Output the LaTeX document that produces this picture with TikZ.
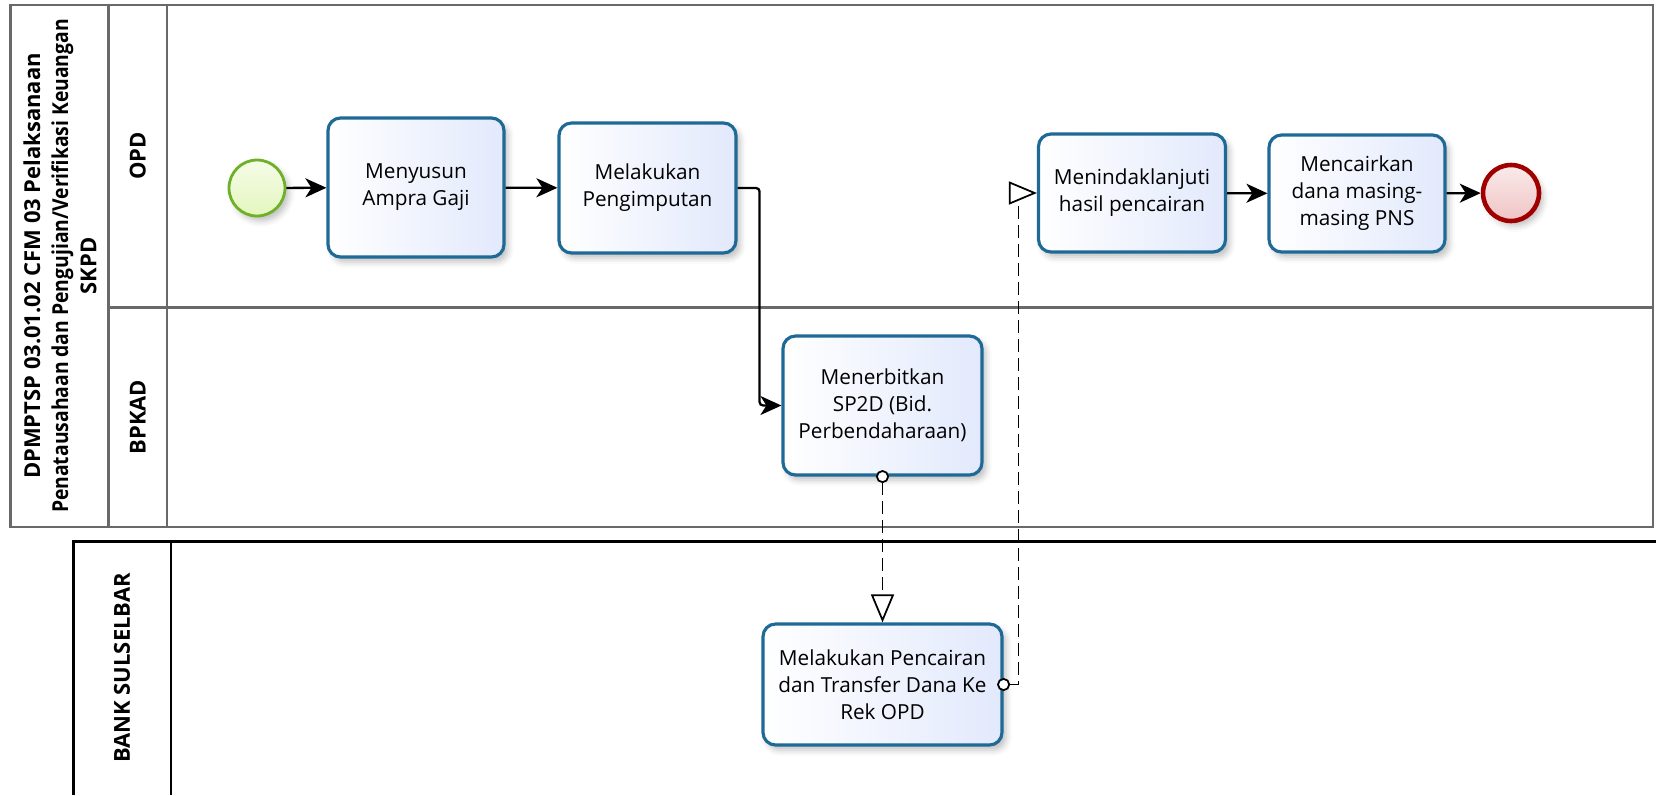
\documentclass[tikz,border=0pt]{standalone}
\usepackage{fontspec}
\setmainfont{Open Sans}
\usepackage{graphicx}
\usepackage{tikz}
\usetikzlibrary{arrows.meta}
\usetikzlibrary{shadows.blur}

\definecolor{taskline}{RGB}{30,105,150}
\definecolor{taskfill}{RGB}{226,233,252}
\definecolor{startline}{RGB}{110,176,40}
\definecolor{startfill}{RGB}{228,246,190}
\definecolor{endline}{RGB}{160,0,0}
\definecolor{endfill}{RGB}{240,196,196}
\definecolor{poolgray}{RGB}{105,105,105}

\newcommand{\tasksize}{\fontsize{11.8}{15.4}\selectfont}
\newcommand{\lanesize}{\fontsize{12.5}{16}\selectfont\bfseries}

\begin{document}
\begin{tikzpicture}[
  task/.style={draw=taskline, line width=1.8pt, rounded corners=0.25cm, left color=white, right color=taskfill, align=center, font=\tasksize, blur shadow={shadow xshift=0.08cm, shadow yshift=-0.1cm, shadow blur radius=0.12cm, shadow opacity=25}},
  event/.style={circle, line width=1.6pt, inner sep=0pt, minimum size=1.12cm, blur shadow={shadow xshift=0.08cm, shadow yshift=-0.1cm, shadow blur radius=0.12cm, shadow opacity=25}},
  seqflow/.style={line width=1.3pt, -{Stealth[length=0.42cm, width=0.38cm, inset=0.12cm]}},
  msgflow/.style={line width=1pt, dash pattern=on 0.26cm off 0.12cm, {Circle[fill=white, length=0.26cm]}-{Triangle[fill=white, length=0.56cm, width=0.46cm]}, shorten <=-0.13cm},
  poolline/.style={draw=poolgray, line width=1.2pt},
  lanetitle/.style={rotate=90, font=\lanesize, align=center}
]
  \useasboundingbox (0,0) rectangle (33.12,-15.9);
  % pool DPMPTSP with lanes OPD and BPKAD
  \draw[poolline] (0.21,-0.1) rectangle (33.06,-10.54);
  \draw[poolline] (2.17,-0.1) -- (2.17,-10.54);
  \draw[poolline] (3.34,-0.1) -- (3.34,-10.54);
  \draw[poolline] (2.17,-6.15) -- (33.06,-6.15);
  \node[lanetitle] (title) at (1.2,-5.32) {DPMPTSP 03.01.02 CFM 03 Pelaksanaan\\ \scalebox{0.88}[1]{Penatausahaan dan Pengujian/Verifikasi Keuangan}\\ SKPD};
  \node[lanetitle] (opd) at (2.755,-3.12) {OPD};
  \node[lanetitle] (bpkad) at (2.755,-8.345) {BPKAD};
  % pool BANK SULSELBAR
  \draw[line width=1.2pt] (33.12,-10.83) -- (1.47,-10.83) -- (1.47,-15.9);
  \draw[line width=1.2pt] (3.42,-10.83) -- (3.42,-15.9);
  \node[lanetitle] (bank) at (2.44,-13.36) {BANK SULSELBAR};
  % events
  \node[event, draw=startline, top color=startfill!35, bottom color=startfill] (start) at (5.14,-3.76) {};
  \node[event, draw=endline, line width=2.6pt, top color=endfill!35, bottom color=endfill] (finish) at (30.22,-3.86) {};
  % tasks
  \node[task, minimum width=3.52cm, minimum height=2.78cm] (ampra) at (8.32,-3.75) {Menyusun\\Ampra Gaji};
  \node[task, minimum width=3.54cm, minimum height=2.6cm] (input) at (12.95,-3.76) {Melakukan\\Pengimputan};
  \node[task, minimum width=3.98cm, minimum height=2.78cm] (sp2d) at (17.65,-8.11) {Menerbitkan\\SP2D (Bid.\\Perbendaharaan)};
  \node[task, minimum width=4.78cm, minimum height=2.42cm] (cair) at (17.65,-13.69) {Melakukan Pencairan\\dan Transfer Dana Ke\\Rek OPD};
  \node[task, minimum width=3.74cm, minimum height=2.36cm] (tindak) at (22.64,-3.86) {Menindaklanjuti\\hasil pencairan};
  \node[task, minimum width=3.52cm, minimum height=2.34cm] (dana) at (27.14,-3.87) {Mencairkan\\dana masing-\\masing PNS};
  % sequence flows
  \foreach \a/\b in {start/ampra, ampra/input, tindak/dana, dana/finish}
  {
  \draw[seqflow] (\a) -- (\b);
  }
  \draw[seqflow, rounded corners=2pt] (input.east) -- ++(0.44,0) |- (sp2d.west);
  % message flows
  \draw[msgflow] (sp2d.south) -- (cair.north);
  \draw[msgflow] (cair.east) -- ++(0.3,0) |- (tindak.west);
\end{tikzpicture}
\end{document}
